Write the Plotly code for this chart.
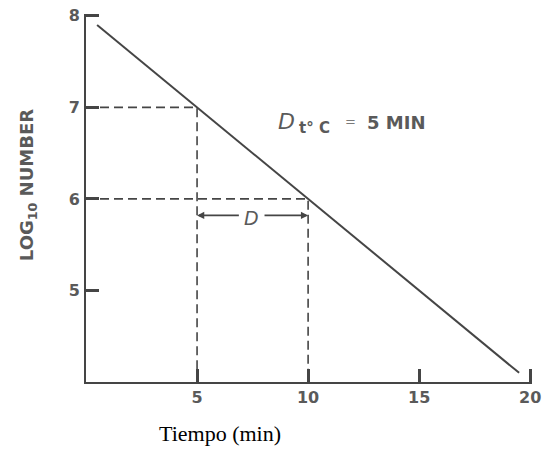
import plotly.graph_objects as go

# Survivor curve: log10 count falls one unit every D minutes
tiempo = [0.5, 19.5]
log_n = [7.9, 4.1]

ref_t = [5, 10]
ref_log = [7, 6]
d_value = 5

x_ticks = [5, 10, 15, 20]
y_ticks = [5, 6, 7, 8]

ink = "#454545"
label_col = "#5a5a5a"
sans = "DejaVu Sans"

fig = go.Figure()

fig.add_trace(go.Scatter(
    x=tiempo, y=log_n, mode="lines",
    line=dict(color=ink, width=2), hoverinfo="skip", showlegend=False,
))

# Dashed guides from the axes to the curve
for t, v in zip(ref_t, ref_log):
    fig.add_trace(go.Scatter(
        x=[0, t, t], y=[v, v, 4], mode="lines",
        line=dict(color=ink, width=1.6, dash="9px,5px"),
        hoverinfo="skip", showlegend=False,
    ))

# Double-headed dimension arrow marking D between the two guides
arrow_y = 5.82
mid = 7.45
for head, tail in [(ref_t[0], mid - 0.5), (ref_t[1], mid + 0.52)]:
    fig.add_annotation(
        x=head, y=arrow_y, ax=tail, ay=arrow_y, xref="x", yref="y",
        axref="x", ayref="y", text="", showarrow=True,
        arrowhead=2, arrowsize=0.9, arrowwidth=1.6, arrowcolor=ink,
    )
fig.add_annotation(
    x=mid, y=arrow_y - 0.03, text="<i>D</i>", showarrow=False,
    font=dict(family=sans, size=19, color=label_col),
)

# D-value label: D, subscript t° C, then "= 5 MIN"
fig.add_annotation(
    x=8.55, y=6.85, xanchor="left", text="<i>D</i>", showarrow=False,
    font=dict(family=sans, size=22, color=label_col),
)
fig.add_annotation(
    x=9.5, y=6.78, xanchor="left", text="<b>t° C</b>", showarrow=False,
    font=dict(family=sans, size=15, color=label_col),
)
fig.add_annotation(
    x=11.9, y=6.85, text="=", showarrow=False,
    font=dict(family=sans, size=13, color="#7a7a7a"),
)
fig.add_annotation(
    x=12.55, y=6.84, xanchor="left", text=f"<b>{d_value} MIN</b>",
    showarrow=False, font=dict(family=sans, size=18, color=label_col),
)

fig.add_annotation(
    xref="paper", yref="paper", x=-0.13, y=0.535,
    xanchor="center", yanchor="middle",
    text="<b>LOG<sub>10</sub> NUMBER</b>", textangle=-90, showarrow=False,
    font=dict(family=sans, size=18, color=label_col),
)
fig.add_annotation(
    xref="paper", yref="paper", x=0.30, y=-0.139,
    xanchor="center", yanchor="middle",
    text="Tiempo (min)", showarrow=False,
    font=dict(family="Liberation Serif", size=22, color="#000000"),
)

axis_common = dict(
    showline=True, linecolor=ink, linewidth=2, showgrid=False, zeroline=False,
    ticks="inside", ticklen=13, tickwidth=2.5, tickcolor=ink,
    tickfont=dict(family=sans, size=16, color=label_col, weight="bold"),
    fixedrange=True, automargin=False,
)
# Ranges reach a hair past the last tick so the end ticks stay drawn
fig.update_xaxes(range=[0, 20.08], tickvals=x_ticks, ticklabelstandoff=0, **axis_common)
fig.update_yaxes(range=[4, 8.02], tickvals=y_ticks, ticklabelstandoff=1, **axis_common)

fig.update_layout(
    width=543, height=451,
    margin=dict(l=86, r=11, t=14, b=69),
    paper_bgcolor="white", plot_bgcolor="white",
)

fig.write_html("out.html")
